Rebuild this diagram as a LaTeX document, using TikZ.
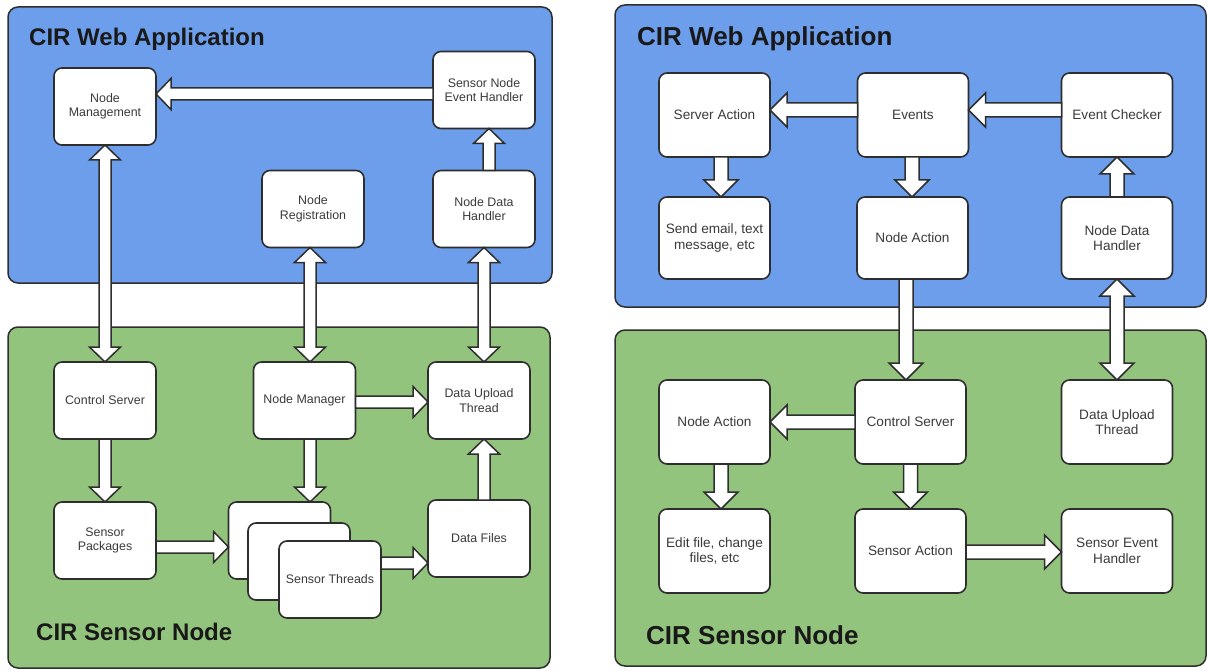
\documentclass[tikz,border=0pt]{standalone}
\usepackage{fontspec}
\setmainfont{Liberation Sans}
\usetikzlibrary{calc}

\definecolor{webblue}{HTML}{6D9EEB}
\definecolor{nodegreen}{HTML}{93C47D}
\definecolor{edgegray}{HTML}{2E2E2E}
\definecolor{labelgray}{HTML}{3A3A3A}

% block-arrow geometry: shaft half width, head half width, head length
\def\basw{6pt}\def\bahw{15.5pt}\def\bahl{15pt}

% hollow block arrow from #1 to #2
\newcommand\blockarrow[2]{%
  \begin{scope}
    \coordinate (ba-a) at (#1);
    \coordinate (ba-b) at (#2);
    \coordinate (ba-c) at ($(ba-b)!\bahl!(ba-a)$);
    \draw[arrowbody]
      ($(ba-a)!\basw!90:(ba-b)$) -- ($(ba-c)!\basw!90:(ba-b)$) --
      ($(ba-c)!\bahw!90:(ba-b)$) -- (ba-b) --
      ($(ba-c)!\bahw!-90:(ba-b)$) -- ($(ba-c)!\basw!-90:(ba-b)$) --
      ($(ba-a)!\basw!-90:(ba-b)$) -- cycle;
  \end{scope}}

% hollow block arrow with heads at both ends
\newcommand\blockarrowboth[2]{%
  \begin{scope}
    \coordinate (ba-a) at (#1);
    \coordinate (ba-b) at (#2);
    \coordinate (ba-c) at ($(ba-a)!\bahl!(ba-b)$);
    \coordinate (ba-d) at ($(ba-b)!\bahl!(ba-a)$);
    \draw[arrowbody]
      (ba-a) -- ($(ba-c)!\bahw!90:(ba-b)$) -- ($(ba-c)!\basw!90:(ba-b)$) --
      ($(ba-d)!\basw!90:(ba-b)$) -- ($(ba-d)!\bahw!90:(ba-b)$) -- (ba-b) --
      ($(ba-d)!\bahw!-90:(ba-b)$) -- ($(ba-d)!\basw!-90:(ba-b)$) --
      ($(ba-c)!\basw!-90:(ba-b)$) -- ($(ba-c)!\bahw!-90:(ba-b)$) -- cycle;
  \end{scope}}

\tikzset{
  panel/.style={draw=edgegray, line width=1.5pt, rounded corners=10pt},
  title/.style={anchor=base west, inner sep=0pt, text=black!90,
    font=\fontsize{24}{28}\selectfont\bfseries},
  lbox/.style={draw=edgegray, fill=white, line width=1.6pt, rounded corners=8pt,
    minimum width=102pt, minimum height=77pt, inner sep=0pt, outer sep=0pt,
    align=center, text=labelgray, font=\fontsize{12.4}{14.5}\selectfont},
  rbox/.style={lbox, minimum width=111pt, minimum height=84pt,
    font=\fontsize{13.6}{15.7}\selectfont},
  arrowbody/.style={draw=edgegray, fill=white, line width=1.5pt, line join=miter},
}

\begin{document}
\begin{tikzpicture}[x=1pt, y=-1pt]
\useasboundingbox (0,0) rectangle (1207,671);

% ---------- left system ----------
\draw[panel, fill=webblue] (8,7) rectangle (552,283);
\draw[panel, fill=nodegreen] (8,327) rectangle (550,668);
\node[title] (ltitleweb) at (29,46) {CIR Web Application};
\node[title] (ltitlesens) at (36,640) {CIR Sensor Node};

\node[lbox] (nm)   at (105,106.5) {Node\\Management};
\node[lbox] (sneh) at (484,90)    {Sensor Node\\Event Handler};
\node[lbox] (nreg) at (313,209)   {Node\\Registration};
\node[lbox] (ndh)  at (484,209)   {Node Data\\Handler};

\node[lbox] (cs)   at (105,400.5)   {Control Server};
\node[lbox] (nmgr) at (304.5,400.5) {Node Manager};
\node[lbox] (dut)  at (479,400.5)   {Data Upload\\Thread};
\node[lbox] (sp)   at (105,540.5)   {Sensor\\Packages};
\node[lbox] (df)   at (479,538.5)   {Data Files};
\node[lbox] (st1)  at (279.5,540.5) {};
\node[lbox] (st2)  at (299,561.5)   {};
\node[lbox] (st3)  at (330,579.5)   {Sensor Threads};

\blockarrow{[yshift=-4pt]sneh.west}{[yshift=12.5pt]nm.east}
\blockarrow{[xshift=5pt]ndh.north}{[xshift=5pt]sneh.south}
\blockarrowboth{nm.south}{cs.north}
\blockarrowboth{[xshift=-3pt]nreg.south}{[xshift=5.5pt]nmgr.north}
\blockarrowboth{ndh.south}{[xshift=5pt]dut.north}
\blockarrow{cs.south}{sp.north}
\blockarrow{[xshift=5.5pt]nmgr.south}{[xshift=30.5pt]st1.north}
\blockarrow{[yshift=-1.5pt]nmgr.east}{[yshift=-1.5pt]dut.west}
\blockarrow{[yshift=-6.5pt]sp.east}{[yshift=-6.5pt]st1.west}
\blockarrow{[yshift=16.5pt]st3.east}{[yshift=-24.5pt]df.west}
\blockarrow{[xshift=5pt]df.north}{[xshift=5pt]dut.south}

% ---------- right system ----------
\draw[panel, fill=webblue] (615,5) rectangle (1206,307);
\draw[panel, fill=nodegreen] (615,330) rectangle (1206,666);
\node[title, font=\fontsize{26}{30}\selectfont\bfseries] (rtitleweb) at (637,46) {CIR Web Application};
\node[title, font=\fontsize{26}{30}\selectfont\bfseries] (rtitlesens) at (646,644) {CIR Sensor Node};

\node[rbox] (sa)   at (714.5,115) {Server Action};
\node[rbox] (ev)   at (913,115)   {Events};
\node[rbox] (ec)   at (1117,115)  {Event Checker};
\node[rbox, minimum height=82pt] (se)   at (714.5,238) {Send email, text\\message, etc};
\node[rbox, minimum height=82pt] (na1)  at (912.5,238) {Node Action};
\node[rbox, minimum height=82pt] (ndh2) at (1117,238)  {Node Data\\Handler};

\node[rbox] (na2)  at (714.5,422) {Node Action};
\node[rbox] (cs2)  at (910.5,422) {Control Server};
\node[rbox] (dut2) at (1117,422)  {Data Upload\\Thread};
\node[rbox] (ef)   at (714.5,551) {Edit file, change\\files, etc};
\node[rbox] (sact) at (910.5,551) {Sensor Action};
\node[rbox] (seh)  at (1117,551)  {Sensor Event\\Handler};

\def\basw{7pt}\def\bahw{17pt}\def\bahl{17pt}
\blockarrow{[yshift=5pt]ev.west}{[yshift=5pt]sa.east}
\blockarrow{[yshift=5pt]ec.west}{[yshift=5pt]ev.east}
\blockarrow{[xshift=6.5pt]sa.south}{[xshift=6.5pt]se.north}
\blockarrow{[xshift=-1pt]ev.south}{[xshift=-0.5pt]na1.north}
\blockarrow{ndh2.north}{ec.south}
\blockarrow{[xshift=-6.5pt]na1.south}{[xshift=-4.5pt]cs2.north}
\blockarrowboth{ndh2.south}{dut2.north}
\blockarrow{cs2.west}{na2.east}
\blockarrow{[xshift=6.5pt]na2.south}{[xshift=6.5pt]ef.north}
\blockarrow{cs2.south}{sact.north}
\blockarrow{[yshift=-1pt]sact.east}{[yshift=-1pt]seh.west}
\end{tikzpicture}
\end{document}
